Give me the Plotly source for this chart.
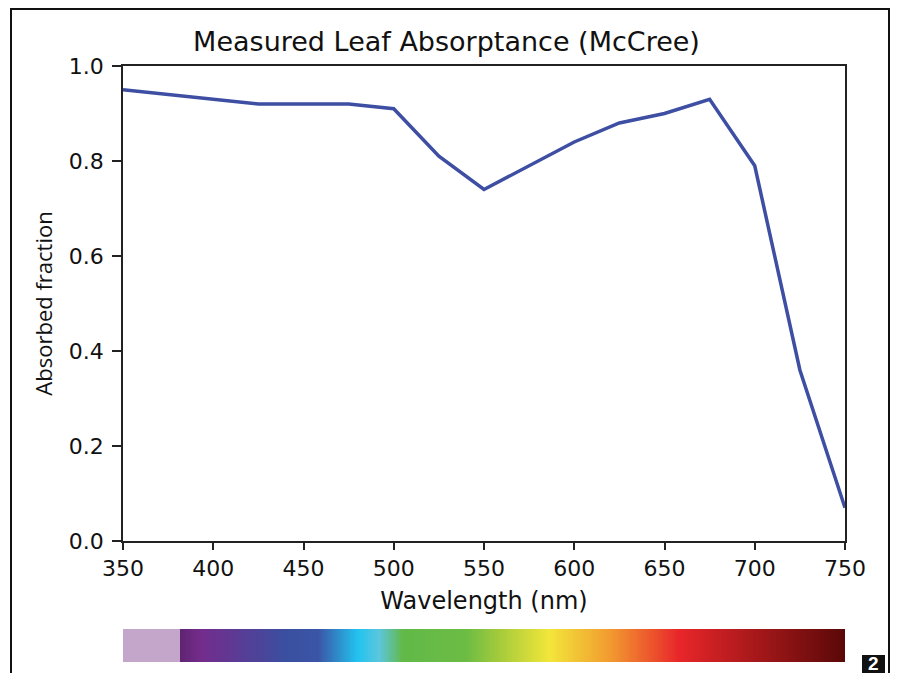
import numpy as np
import plotly.graph_objects as go

# Data
wavelength_nm = [350, 375, 400, 425, 450, 475, 500, 525, 550, 575, 600, 625, 650, 675, 700, 725, 750]
absorbed_fraction = [0.95, 0.94, 0.93, 0.92, 0.92, 0.92, 0.91, 0.81, 0.74, 0.79, 0.84, 0.88, 0.90, 0.93, 0.79, 0.36, 0.07]

x_ticks = [350, 400, 450, 500, 550, 600, 650, 700, 750]
y_ticks = [0.0, 0.2, 0.4, 0.6, 0.8, 1.0]
y_tick_labels = ["0.0", "0.2", "0.4", "0.6", "0.8", "1.0"]

# Spectrum strip stops (wavelength, colour)
spectrum_stops_nm = [350, 381, 381, 393, 440, 458, 480, 492, 505, 540, 560, 586, 620, 658, 750]
spectrum_colors = ["#c4a6cb", "#c4a6cb", "#5e2470", "#742c8c", "#3a4fa0", "#3b55a6", "#22c3f0",
                   "#5cc6dc", "#62b948", "#6cbc44", "#a9cc3b", "#f2e63a", "#f29a30", "#e8262a", "#5a0808"]

FW, FH = 898, 673
L, R, T, B = 123, 53, 66, 11
PW, PH = FW - L - R, FH - T - B
main_bottom_px = 541
strip_top_px = 629

def px_x(p):
    return (p - L) / PW

def px_y(p):
    return (FH - B - p) / PH

# colourscale built from the stops
lo, hi = spectrum_stops_nm[0], spectrum_stops_nm[-1]
cscale = []
for i, (w, c) in enumerate(zip(spectrum_stops_nm, spectrum_colors)):
    pos = (w - lo) / (hi - lo)
    if i == 2:
        pos = pos + 1e-6
    cscale.append([min(pos, 1.0), c])

strip_x = np.arange(lo, hi + 1)

fig = go.Figure()

fig.add_trace(go.Heatmap(
    x=strip_x, y=[0], z=[strip_x], colorscale=cscale, zmin=lo, zmax=hi,
    showscale=False, hoverinfo="skip", xaxis="x", yaxis="y2"))

fig.add_trace(go.Scatter(
    x=wavelength_nm, y=absorbed_fraction, mode="lines",
    line=dict(color="#3d4ea3", width=3.5), showlegend=False, xaxis="x", yaxis="y"))

tick_font = dict(family="DejaVu Sans", size=22, color="#111")

fig.update_layout(
    width=FW, height=FH,
    margin=dict(l=L, r=R, t=T, b=B, pad=0, autoexpand=False),
    paper_bgcolor="white", plot_bgcolor="white",
    title=dict(text="Measured Leaf Absorptance (McCree)", x=px_x(482), xanchor="center",
               y=1 - 42 / FH, yanchor="middle", font=dict(family="DejaVu Sans", size=27, color="#111"),
               automargin=False),
    xaxis=dict(range=[350, 750], tickvals=x_ticks, ticks="outside", ticklen=7, tickwidth=1.5,
               tickcolor="#222", showline=True, linecolor="#222", linewidth=1.5, mirror=True,
               showgrid=False, zeroline=False, tickfont=tick_font, anchor="y", ticklabelstandoff=0,
               automargin=False,
               title=dict(text="Wavelength (nm)", font=dict(family="DejaVu Sans", size=24, color="#111"),
                          standoff=12)),
    yaxis=dict(range=[0, 1], tickvals=y_ticks, ticktext=y_tick_labels, ticks="outside", ticklen=9,
               tickwidth=1.5, tickcolor="#222", showline=True, linecolor="#222", linewidth=1.5,
               mirror=True, showgrid=False, zeroline=False, tickfont=tick_font, ticklabelstandoff=4,
               domain=[px_y(main_bottom_px), 1], automargin=False,
               title=dict(text="Absorbed fraction", font=dict(family="Open Sans", size=22, color="#111"),
                          standoff=10)),
    yaxis2=dict(domain=[0, px_y(strip_top_px)], visible=False, range=[-0.5, 0.5], fixedrange=True,
                automargin=False),
    shapes=[
        dict(type="rect", xref="paper", yref="paper", x0=px_x(11), x1=px_x(889),
             y0=px_y(680), y1=px_y(9), line=dict(color="#111", width=2), fillcolor="rgba(0,0,0,0)"),
        dict(type="rect", xref="paper", yref="paper", x0=px_x(862), x1=px_x(885),
             y0=px_y(680), y1=px_y(655), line=dict(width=0), fillcolor="#111"),
    ],
    annotations=[
        dict(text="<b>2</b>", xref="paper", yref="paper", x=px_x(873.5), y=px_y(663),
             xanchor="center", yanchor="middle", showarrow=False,
             font=dict(family="Liberation Sans", size=19, color="white")),
    ],
)

fig.write_html("out.html", config={"displayModeBar": False},
               post_script="document.body.style.margin='0';document.body.style.overflow='hidden';")
